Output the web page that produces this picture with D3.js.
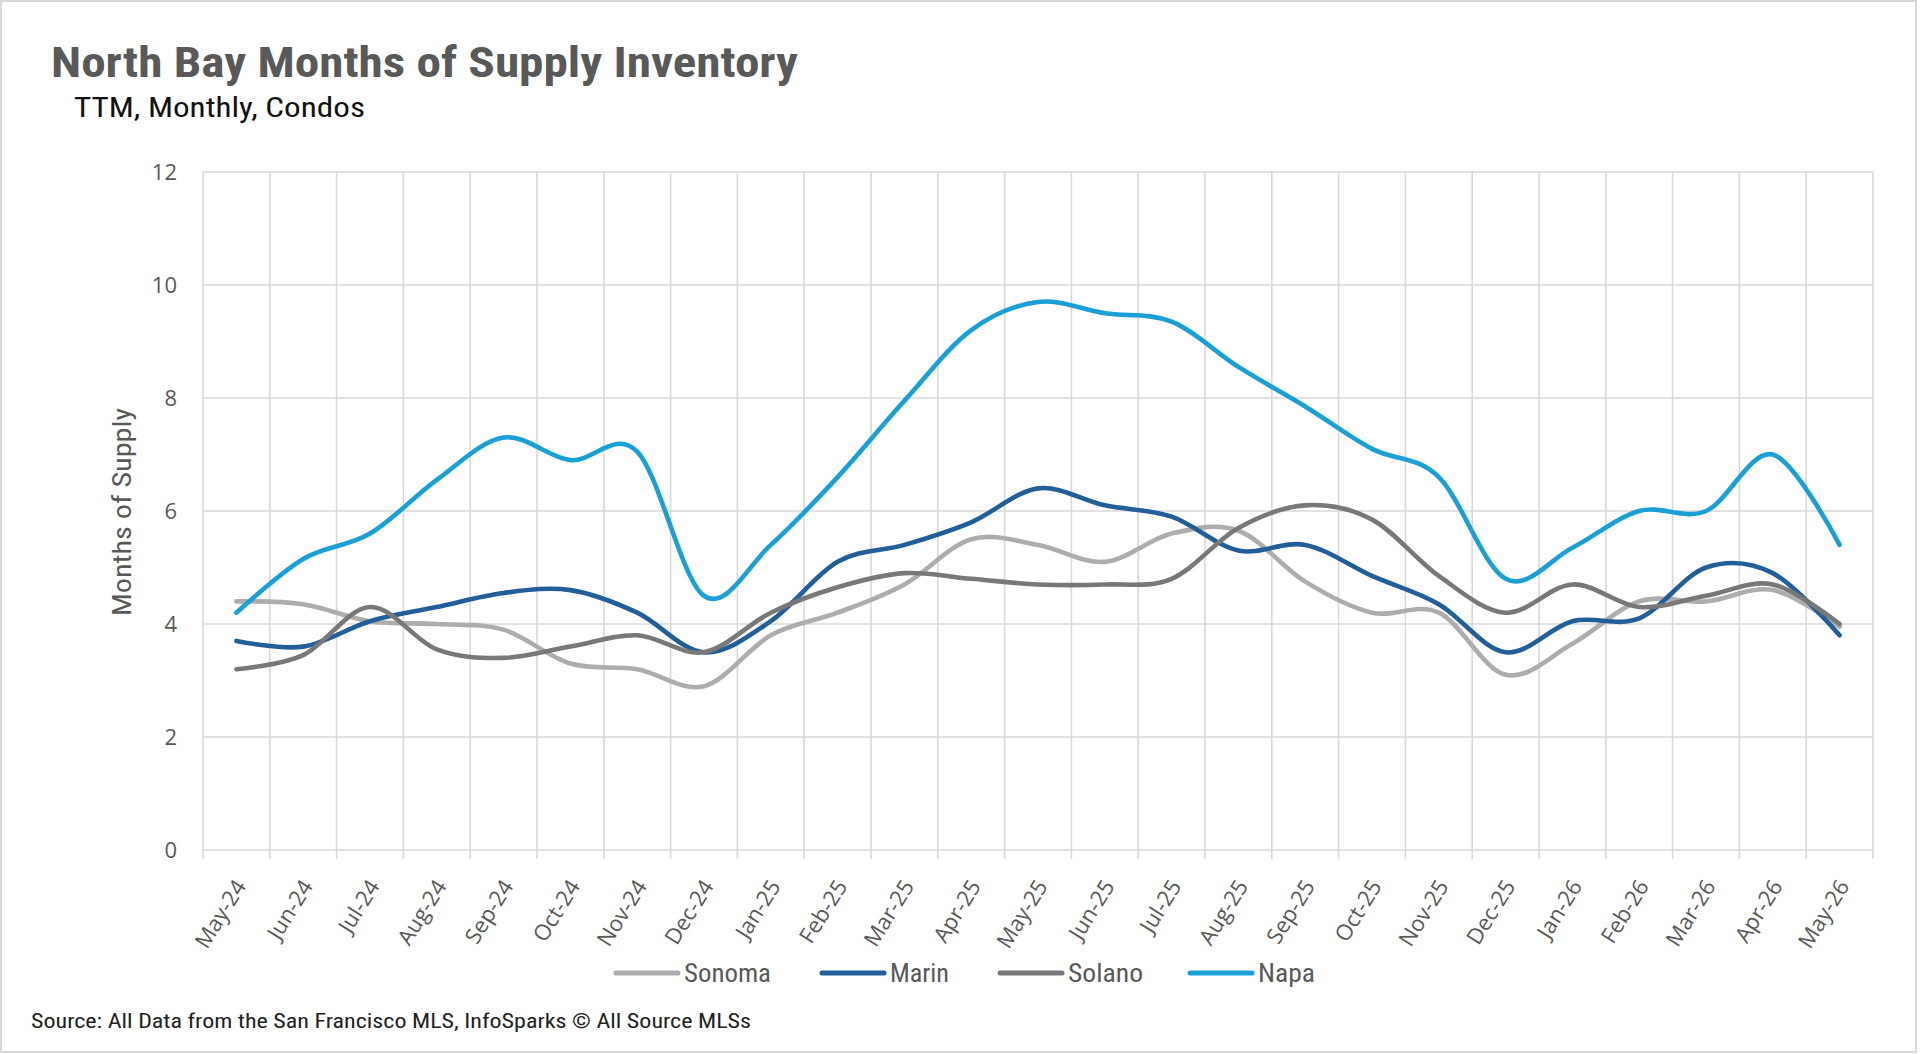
<!DOCTYPE html>
<html><head><meta charset="utf-8">
<script src="https://cdn.jsdelivr.net/npm/d3@7"></script>
<style>
html,body{margin:0;padding:0;background:#fff;}
svg{display:block;}
.narrow{font-family:"Liberation Sans Narrow","Arial Narrow","Roboto Condensed","Roboto","Noto Sans",sans-serif;}
.wide{font-family:"Open Sans","DejaVu Sans",sans-serif;}
</style>
</head><body>
<svg id="chart" width="1920" height="1054"></svg>
<script>
const months = ["May-24","Jun-24","Jul-24","Aug-24","Sep-24","Oct-24","Nov-24","Dec-24","Jan-25","Feb-25","Mar-25","Apr-25","May-25","Jun-25","Jul-25","Aug-25","Sep-25","Oct-25","Nov-25","Dec-25","Jan-26","Feb-26","Mar-26","Apr-26","May-26"];
const sonoma = [4.4,4.35,4.05,4.0,3.9,3.3,3.2,2.9,3.8,4.2,4.7,5.5,5.4,5.1,5.6,5.65,4.75,4.2,4.2,3.1,3.65,4.4,4.4,4.6,3.95];
const marin  = [3.7,3.6,4.05,4.3,4.55,4.6,4.2,3.5,4.05,5.1,5.4,5.8,6.4,6.1,5.9,5.3,5.4,4.85,4.35,3.5,4.05,4.1,5.0,4.9,3.8];
const solano = [3.2,3.45,4.3,3.55,3.4,3.6,3.8,3.5,4.2,4.65,4.9,4.8,4.7,4.7,4.8,5.7,6.1,5.85,4.85,4.2,4.7,4.3,4.5,4.7,4.0];
const napa   = [4.2,5.15,5.6,6.55,7.3,6.9,7.05,4.5,5.4,6.6,7.95,9.2,9.7,9.5,9.35,8.55,7.85,7.1,6.6,4.8,5.35,6.0,6.0,7.0,5.4];
const seriesNames = ["Sonoma","Marin","Solano","Napa"];
const seriesColors = ["#ADADAD","#225E98","#787878","#1A9FD6"];
const yTicks = [0,2,4,6,8,10,12];

const svg = d3.select("#chart");
const W = 1920, H = 1054;
const L = 203, R = 1873, T = 172, B = 850;

svg.append("rect").attr("x",1).attr("y",1).attr("width",W-5).attr("height",H-3)
  .attr("fill","#fff").attr("stroke","#D9D9D9").attr("stroke-width",2);

// title
svg.append("text").attr("class","narrow").attr("x",51).attr("y",77)
  .attr("font-size",42).attr("font-weight","bold").attr("fill","#595959")
  .attr("textLength",747).attr("lengthAdjust","spacingAndGlyphs")
  .text("North Bay Months of Supply Inventory");
svg.append("text").attr("class","narrow").attr("x",74).attr("y",116.5)
  .attr("font-size",28).attr("fill","#111")
  .attr("textLength",291).attr("lengthAdjust","spacingAndGlyphs")
  .text("TTM, Monthly, Condos");

const x = d3.scaleBand().domain(months).range([L,R]).paddingInner(0).paddingOuter(0);
const y = d3.scaleLinear().domain([0,12]).range([B,T]);
const cx = m => x(m) + x.bandwidth()/2;

// horizontal gridlines
svg.append("g").selectAll("line").data(yTicks).join("line")
  .attr("x1",L).attr("x2",R).attr("y1",d=>y(d)).attr("y2",d=>y(d))
  .attr("stroke","#D9D9D9").attr("stroke-width",1.6);

// vertical gridlines at category boundaries (+ tick marks below axis)
const bounds = months.map(m=>x(m)).concat([R]);
svg.append("g").selectAll("line").data(bounds).join("line")
  .attr("x1",d=>d).attr("x2",d=>d).attr("y1",T).attr("y2",B+9)
  .attr("stroke","#D9D9D9").attr("stroke-width",1.6);

// y tick labels
svg.append("g").selectAll("text").data(yTicks).join("text")
  .attr("class","wide").attr("x",177).attr("y",d=>y(d)).attr("dy","0.36em")
  .attr("text-anchor","end").attr("font-size",22).attr("fill","#595959")
  .text(d=>d);

// y axis title
svg.append("text").attr("class","narrow")
  .attr("transform","translate(131,512) rotate(-90)")
  .attr("text-anchor","middle").attr("font-size",26).attr("fill","#595959")
  .attr("textLength",208).attr("lengthAdjust","spacingAndGlyphs")
  .text("Months of Supply");

// x tick labels
svg.append("g").selectAll("text").data(months).join("text")
  .attr("class","wide")
  .attr("transform",m=>`translate(${cx(m)+4},${B+32}) rotate(-58)`)
  .attr("text-anchor","end").attr("dy","0.35em").attr("font-size",22).attr("fill","#595959")
  .text(m=>m);

// lines
const allSeries = [sonoma, marin, solano, napa];
const line = d3.line().x((d,i)=>cx(months[i])).y(d=>y(d)).curve(d3.curveCardinal.tension(0));
svg.append("g").selectAll("path").data(allSeries).join("path")
  .attr("d",d=>line(d)).attr("fill","none")
  .attr("stroke",(d,i)=>seriesColors[i]).attr("stroke-width",4.6)
  .attr("stroke-linecap","round").attr("stroke-linejoin","round");

// legend
const legX = [616, 822, 1000, 1190];
const legW = [87, 59, 75, 57];
const legY = 973;
const lg = svg.append("g").selectAll("g").data(seriesNames).join("g");
lg.append("line").attr("x1",(d,i)=>legX[i]).attr("x2",(d,i)=>legX[i]+62)
  .attr("y1",legY).attr("y2",legY).attr("stroke",(d,i)=>seriesColors[i])
  .attr("stroke-width",5).attr("stroke-linecap","round");
lg.append("text").attr("class","narrow").attr("x",(d,i)=>legX[i]+68).attr("y",legY+9)
  .attr("font-size",26).attr("fill","#595959")
  .attr("textLength",(d,i)=>legW[i]).attr("lengthAdjust","spacingAndGlyphs")
  .text(d=>d);

// source
svg.append("text").attr("class","narrow").attr("x",31).attr("y",1028)
  .attr("font-size",21).attr("fill","#222")
  .attr("textLength",720).attr("lengthAdjust","spacingAndGlyphs")
  .text("Source: All Data from the San Francisco MLS, InfoSparks © All Source MLSs");
</script>
</body></html>
